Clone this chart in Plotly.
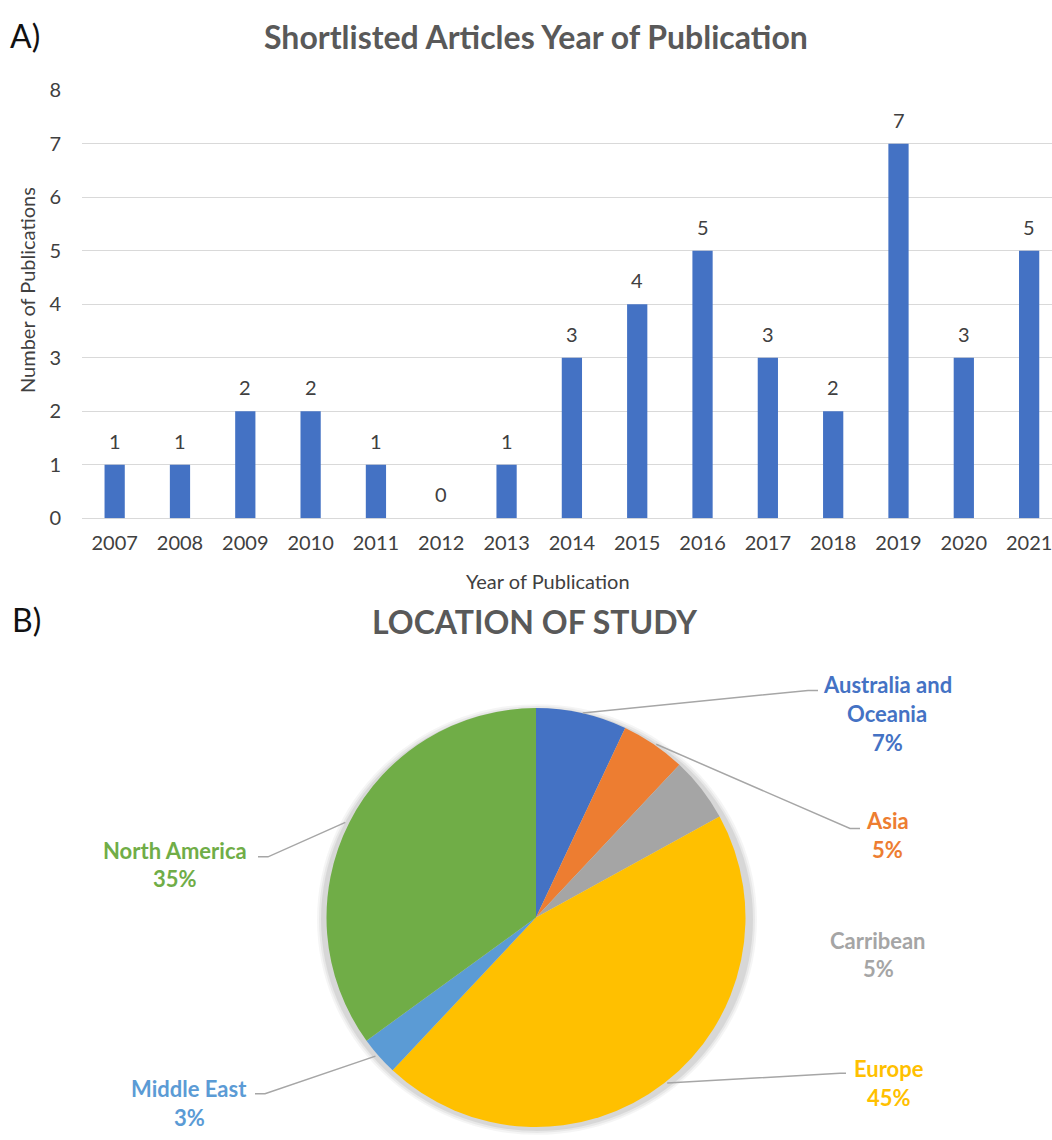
import math
import plotly.graph_objects as go

# Page size in pixels
W, H = 1052, 1140

# ---- Panel A: publications per year ----
years = ["2007", "2008", "2009", "2010", "2011", "2012", "2013", "2014",
         "2015", "2016", "2017", "2018", "2019", "2020", "2021"]
publications = [1, 1, 2, 2, 1, 0, 1, 3, 4, 5, 3, 2, 7, 3, 5]
y_ticks = [0, 1, 2, 3, 4, 5, 6, 7, 8]

# ---- Panel B: location of study ----
regions = ["Australia and Oceania", "Asia", "Carribean", "Europe",
           "Middle East", "North America"]
region_label_lines = [["Australia and", "Oceania"], ["Asia"], ["Carribean"],
                      ["Europe"], ["Middle East"], ["North America"]]
region_share = [7, 5, 5, 45, 3, 35]
region_colors = ["#4472C4", "#ED7D31", "#A5A5A5", "#FFC000", "#5B9BD5", "#70AD47"]

FONT = "Lato"
GREY_TXT = "#595959"
DARK_TXT = "#404040"


def fx(px):
    return px / W


def fy(py):
    return 1 - py / H


# bar plot area (pixels)
PLOT_L, PLOT_T, PLOT_B = 82, 79, 516
# pie geometry (pixels)
PIE_CX, PIE_CY, PIE_R = 536, 924, 214

fig = go.Figure()

fig.add_trace(go.Bar(
    x=years, y=publications,
    marker=dict(color="#4472C4", line=dict(width=0)),
    width=0.31, showlegend=False, hoverinfo="x+y",
    xaxis="x", yaxis="y",
))

fig.add_trace(go.Pie(
    labels=regions, values=region_share,
    sort=False, direction="clockwise", rotation=0,
    marker=dict(colors=region_colors, line=dict(width=0)),
    textinfo="none", showlegend=False,
    domain=dict(x=[fx(PIE_CX - PIE_R), fx(PIE_CX + PIE_R)],
                y=[fy(PIE_CY + PIE_R), fy(PIE_CY - PIE_R)]),
))

annotations = []
shapes = []

# soft drop shadow under the pie
for grow, alpha in [(6, 0.04), (4, 0.05), (2, 0.07)]:
    shapes.append(dict(type="circle", xref="paper", yref="paper", layer="below",
                       x0=fx(PIE_CX - PIE_R - grow + 1), x1=fx(PIE_CX + PIE_R + grow + 1),
                       y0=fy(PIE_CY + PIE_R + grow + 2), y1=fy(PIE_CY - PIE_R - grow + 2),
                       fillcolor=f"rgba(0,0,0,{alpha})", line=dict(width=0)))

# panel letters and titles
annotations.append(dict(text="A)", x=fx(8), y=fy(23), xref="paper", yref="paper",
                        xanchor="left", yanchor="middle", showarrow=False,
                        font=dict(family=FONT, size=32, color="#111111")))
annotations.append(dict(text="B)", x=fx(10), y=fy(620), xref="paper", yref="paper",
                        xanchor="left", yanchor="middle", showarrow=False,
                        font=dict(family=FONT, size=32, color="#111111")))
annotations.append(dict(text="<b>Shortlisted Articles Year of Publication</b>",
                        x=fx(536), y=fy(24), xref="paper", yref="paper",
                        xanchor="center", yanchor="middle", showarrow=False,
                        font=dict(family=FONT, size=32, color=GREY_TXT)))
annotations.append(dict(text="<b>LOCATION OF STUDY</b>",
                        x=fx(534), y=fy(622), xref="paper", yref="paper",
                        xanchor="center", yanchor="middle", showarrow=False,
                        font=dict(family=FONT, size=32, color=GREY_TXT)))

# axis titles
annotations.append(dict(text="Number of Publications", x=fx(27), y=fy(283),
                        xref="paper", yref="paper", textangle=-90,
                        xanchor="center", yanchor="middle", showarrow=False,
                        font=dict(family=FONT, size=20, color=DARK_TXT)))
annotations.append(dict(text="Year of Publication", x=fx(548), y=fy(580),
                        xref="paper", yref="paper",
                        xanchor="center", yanchor="middle", showarrow=False,
                        font=dict(family=FONT, size=20, color=DARK_TXT)))

# value labels above bars (category index used as the x position)
for i, v in enumerate(publications):
    annotations.append(dict(text=str(v), x=i, y=v, xref="x", yref="y",
                            yshift=24, xanchor="center", yanchor="middle",
                            showarrow=False,
                            font=dict(family=FONT, size=20, color=DARK_TXT)))

# pie labels: (centre x, first line y, connector end, connector elbow)
label_layout = [
    (887, 686, (818, 692), (808, 692)),
    (887, 825, (860, 833), (850, 833)),
    (878, 947, None, None),
    (889, 1078, (846, 1083), (840, 1083)),
    (189, 1099, (255, 1104), (265, 1104)),
    (175, 855, (258, 862), (268, 862)),
]
LINE_GAP = 29.5

total = sum(region_share)
cum = 0
for name_lines, share, col, (cx, y0, end, elbow) in zip(
        region_label_lines, region_share, region_colors, label_layout):
    mid = (cum + share / 2) / total * 2 * math.pi
    cum += share
    lines = name_lines + [f"{share}%"]
    for i, ln in enumerate(lines):
        annotations.append(dict(text=f"<b>{ln}</b>", x=fx(cx), y=fy(y0 + i * LINE_GAP),
                                xref="paper", yref="paper", xanchor="center",
                                yanchor="middle", showarrow=False,
                                font=dict(family=FONT, size=22, color=col)))
    if end is not None:
        sx = PIE_CX + PIE_R * math.sin(mid)
        sy = PIE_CY - PIE_R * math.cos(mid)
        path = (f"M {fx(sx)} {fy(sy)} L {fx(elbow[0])} {fy(elbow[1])} "
                f"L {fx(end[0])} {fy(end[1])}")
        shapes.append(dict(type="path", path=path, xref="paper", yref="paper",
                           line=dict(color="#A6A6A6", width=1.5)))

fig.update_layout(
    width=W, height=H,
    margin=dict(l=0, r=0, t=0, b=0),
    paper_bgcolor="white", plot_bgcolor="white",
    font=dict(family=FONT, color=GREY_TXT),
    xaxis=dict(domain=[fx(PLOT_L), 1], type="category",
               range=[-0.5, 14.35], showgrid=False, zeroline=False,
               showline=False, ticks="", tickfont=dict(size=20, color=DARK_TXT),
               ticklabelstandoff=11, anchor="y"),
    yaxis=dict(domain=[fy(PLOT_B), fy(PLOT_T)], range=[0, 8],
               tickvals=y_ticks, showgrid=True, gridcolor="#D9D9D9",
               gridwidth=1, zeroline=True, zerolinecolor="#D9D9D9",
               zerolinewidth=1, showline=False, ticks="",
               tickfont=dict(size=20, color=DARK_TXT),
               ticklabelstandoff=20, anchor="x"),
    annotations=annotations,
    shapes=shapes,
)

fig.write_html("out.html")
